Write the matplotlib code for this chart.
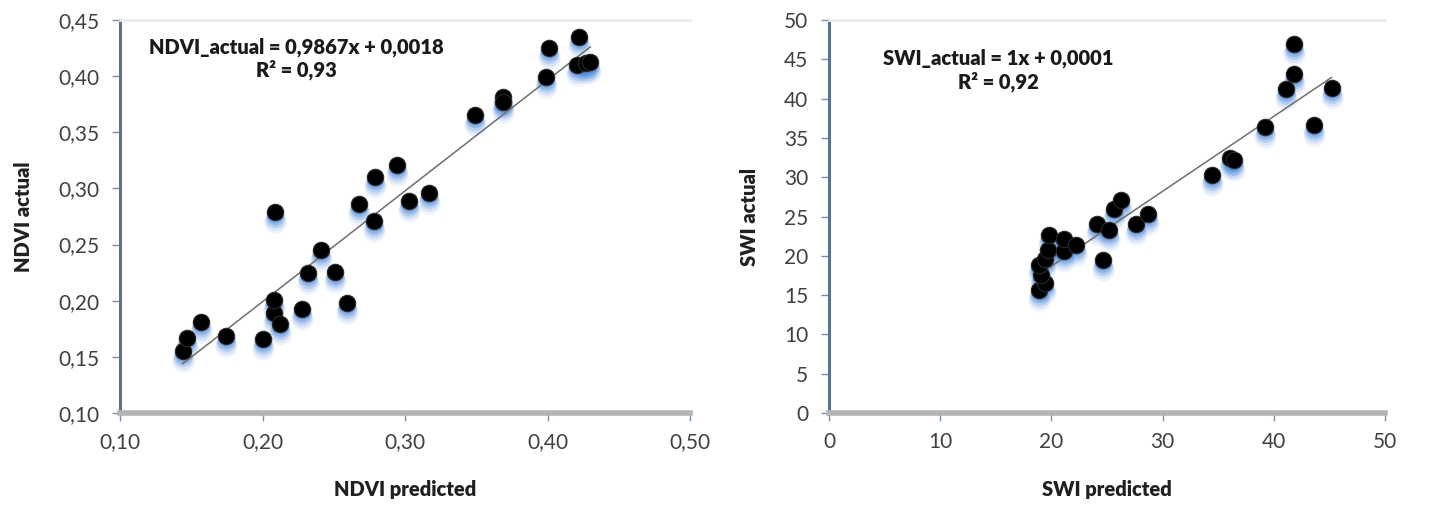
import matplotlib
matplotlib.use("Agg")
import numpy as np
from matplotlib import pyplot as plt
from matplotlib import transforms
from matplotlib.ticker import FuncFormatter, MultipleLocator

plt.rcParams['font.family'] = ['Lato', 'DejaVu Sans']

# NDVI panel (predicted, actual)
ndvi_pred = [0.144, 0.147, 0.157, 0.174, 0.200, 0.208, 0.208, 0.209, 0.212, 0.228,
             0.232, 0.241, 0.251, 0.259, 0.268, 0.278, 0.279, 0.294, 0.303, 0.317,
             0.349, 0.369, 0.369, 0.399, 0.401, 0.421, 0.422, 0.427, 0.430]
ndvi_act = [0.155, 0.167, 0.181, 0.169, 0.166, 0.189, 0.201, 0.279, 0.179, 0.193,
            0.225, 0.245, 0.226, 0.198, 0.286, 0.271, 0.310, 0.321, 0.289, 0.296,
            0.365, 0.381, 0.377, 0.399, 0.425, 0.410, 0.435, 0.412, 0.413]
ndvi_slope, ndvi_icpt = 0.9867, 0.0018

# SWI panel (predicted, actual)
swi_pred = [18.9, 19.4, 19.1, 18.9, 19.4, 19.7, 21.1, 19.8, 21.1, 22.2,
            24.6, 24.1, 25.2, 25.6, 26.3, 27.6, 28.7, 34.4, 36.1, 36.4,
            39.2, 43.6, 41.1, 41.8, 41.8, 45.2]
swi_act = [15.7, 16.5, 17.6, 18.8, 19.6, 20.7, 20.6, 22.6, 22.1, 21.4,
           19.5, 24.0, 23.3, 25.9, 27.1, 24.0, 25.3, 30.3, 32.4, 32.2,
           36.4, 36.7, 41.2, 43.1, 46.9, 41.3]
swi_trend_x = [19.5, 45.2]
swi_trend_y = [18.2, 42.7]


def _comma(fmt):
    return FuncFormatter(lambda v, _: fmt.format(v).replace('.', ','))


def _glow_scatter(ax, x, y):
    # blue blurred shadow under each black marker
    for dy, alpha, s in [(10, 0.08, 260), (8, 0.13, 220), (6, 0.2, 185), (4, 0.28, 160), (2, 0.3, 145)]:
        tr = transforms.offset_copy(ax.transData, fig=ax.figure, x=0, y=-dy, units='dots')
        ax.scatter(x, y, s=s, color='#3a7fda', alpha=alpha, linewidths=0,
                   transform=tr, zorder=2)
    ax.scatter(x, y, s=140, color='black', edgecolors='#2a2a2a', linewidths=0.8, zorder=4)


def _style(ax):
    ax.spines['left'].set_color('#5d7192')
    ax.spines['left'].set_linewidth(2.2)
    ax.spines['bottom'].set_color('#b4b4b4')
    ax.spines['bottom'].set_linewidth(4)
    ax.spines['top'].set_color('#ececec')
    ax.spines['top'].set_linewidth(2)
    ax.spines['right'].set_visible(False)
    ax.tick_params(axis='both', direction='out', length=6, width=1, color='#7d8fa8',
                   labelsize=15, labelcolor='#404040')
    ax.tick_params(axis='x', pad=8)
    ax.tick_params(axis='y', pad=9)


fig = plt.figure(figsize=(14.43, 5.08), dpi=100)

ax1 = fig.add_axes([0.0832, 0.187, 0.395, 0.7736])
_glow_scatter(ax1, ndvi_pred, ndvi_act)
xl = np.array([min(ndvi_pred), max(ndvi_pred)])
ax1.plot(xl, ndvi_slope * xl + ndvi_icpt, color='#6e6e6e', linewidth=1.1, zorder=3)
ax1.set_xlim(0.10, 0.50)
ax1.set_ylim(0.10, 0.45)
ax1.xaxis.set_major_locator(MultipleLocator(0.10))
ax1.yaxis.set_major_locator(MultipleLocator(0.05))
ax1.xaxis.set_major_formatter(_comma('{:.2f}'))
ax1.yaxis.set_major_formatter(_comma('{:.2f}'))
_style(ax1)
ax1.set_xlabel('NDVI predicted', fontsize=14.5, fontweight='heavy', color='#202020', labelpad=20)
ax1.set_ylabel('NDVI actual', fontsize=14.5, fontweight='heavy', color='#202020', labelpad=18)
ax1.text(0.2235, 0.4155, 'NDVI_actual = 0,9867x + 0,0018\nR² = 0,93', ha='center', va='center',
         multialignment='center', fontsize=14.5, fontweight='heavy', color='#1a1a1a',
         linespacing=1.2)

ax2 = fig.add_axes([0.5745, 0.187, 0.3853, 0.7736])
_glow_scatter(ax2, swi_pred, swi_act)
ax2.plot(swi_trend_x, swi_trend_y, color='#6e6e6e', linewidth=1.1, zorder=3)
ax2.set_xlim(0, 50)
ax2.set_ylim(0, 50)
ax2.xaxis.set_major_locator(MultipleLocator(10))
ax2.yaxis.set_major_locator(MultipleLocator(5))
_style(ax2)
ax2.set_xlabel('SWI predicted', fontsize=14.5, fontweight='heavy', color='#202020', labelpad=20)
ax2.set_ylabel('SWI actual', fontsize=14.5, fontweight='heavy', color='#202020', labelpad=18)
ax2.text(15.2, 43.6, 'SWI_actual = 1x + 0,0001\nR² = 0,92', ha='center', va='center',
         multialignment='center', fontsize=14.5, fontweight='heavy', color='#1a1a1a',
         linespacing=1.2)

fig.savefig('out.png', dpi=100, facecolor='white')
